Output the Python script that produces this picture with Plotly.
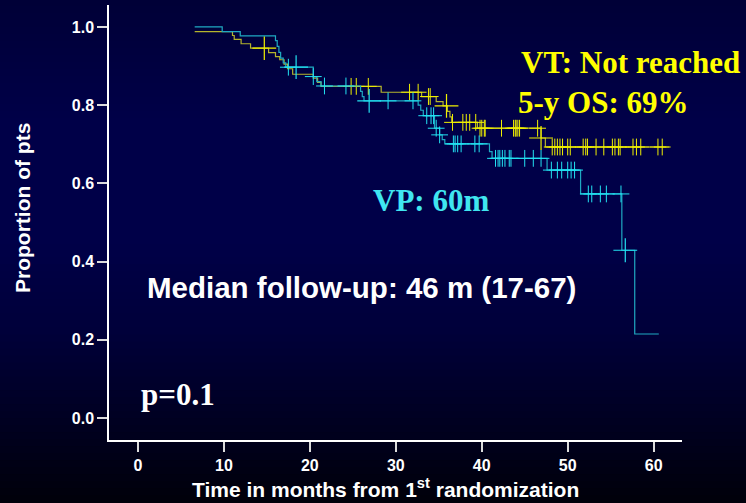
import numpy as np
import plotly.graph_objects as go

# ---------------- data ----------------
vt_time = [6.6, 11.0, 11.2, 12.0, 13.1, 15.2, 16.0, 16.5, 17.0, 17.4, 18.0, 20.4, 20.9, 21.3,
           28.3, 33.0, 34.7, 35.5, 36.0, 36.3, 36.5, 39.5, 46.9, 47.4]
vt_surv = [0.988, 0.978, 0.968, 0.957, 0.946, 0.934, 0.924, 0.916, 0.905, 0.893, 0.879, 0.869,
           0.858, 0.848, 0.833, 0.822, 0.809, 0.798, 0.784, 0.770, 0.756, 0.741, 0.716, 0.693]
vt_end = 61.8
vt_censor = [24.8, 25.4, 26.8, 31.6, 32.6, 33.8, 34.0, 36.6, 37.8, 38.2, 38.6, 39.3, 39.8, 40.0,
             40.3, 40.4, 42.3, 43.7, 43.9, 44.0, 44.2, 44.4, 46.5, 48.2, 48.5, 48.8, 49.1, 49.4,
             50.0, 50.3, 51.8, 52.1, 52.3, 53.3, 54.2, 55.2, 55.5, 55.9, 56.1, 57.6, 58.0, 58.5,
             60.5, 61.0]
vt_censor_big = [14.7, 35.9, 46.9]

vp_time = [6.6, 9.8, 11.9, 16.0, 16.2, 16.4, 16.6, 16.9, 17.2, 20.4, 20.8, 21.3, 25.9, 26.1, 26.3,
           32.6, 32.9, 33.2, 34.5, 35.1, 35.4, 35.7, 40.9, 41.2, 47.6, 51.5, 56.3, 57.8]
vp_surv = [1.0, 0.988, 0.977, 0.965, 0.950, 0.935, 0.920, 0.908, 0.897, 0.873, 0.860, 0.849, 0.835,
           0.822, 0.811, 0.800, 0.787, 0.773, 0.741, 0.724, 0.712, 0.701, 0.681, 0.664, 0.634,
           0.573, 0.429, 0.215]
vp_end = 60.6
vp_censor = [17.5, 20.4, 21.7, 24.2, 29.1, 32.0, 33.6, 34.1, 34.4, 34.7, 35.1, 36.7, 36.9, 37.2,
             37.6, 39.2, 39.7, 41.6, 41.9, 42.1, 42.4, 42.7, 43.2, 43.4, 45.0, 46.0, 46.9, 48.1,
             48.8, 49.3, 50.0, 50.4, 50.8, 52.4, 52.8, 53.8, 54.5, 56.2]
vp_censor_big = [18.4, 26.9, 56.7]

x_ticks = [0, 10, 20, 30, 40, 50, 60]
y_ticks = [0.0, 0.2, 0.4, 0.6, 0.8, 1.0]

# ---------------- helpers ----------------
def surv_at(times, survs, t):
    idx = np.searchsorted(np.array(times), np.array(t), side="right") - 1
    return list(np.array(survs)[idx])

VT_LINE = "#b4b42c"
VT_MARK = "#f0f000"
VP_LINE = "#1fa9c2"
VP_MARK = "#22e2f2"

fig = go.Figure()

for times, survs, end, line_c, mark_c, cens, cens_big in [
    (vt_time, vt_surv, vt_end, VT_LINE, VT_MARK, vt_censor, vt_censor_big),
    (vp_time, vp_surv, vp_end, VP_LINE, VP_MARK, vp_censor, vp_censor_big),
]:
    fig.add_trace(go.Scatter(
        x=list(times) + [end], y=list(survs) + [survs[-1]],
        mode="lines", line=dict(color=line_c, width=1.2, shape="hv"),
        hoverinfo="skip", showlegend=False))
    fig.add_trace(go.Scatter(
        x=cens, y=surv_at(times, survs, cens), mode="markers",
        marker=dict(symbol="cross-thin", size=12, line=dict(color=mark_c, width=1)),
        hoverinfo="skip", showlegend=False))
    fig.add_trace(go.Scatter(
        x=cens_big, y=surv_at(times, survs, cens_big), mode="markers",
        marker=dict(symbol="cross-thin", size=17, line=dict(color=mark_c, width=1.2)),
        hoverinfo="skip", showlegend=False))

# ---------------- background gradient ----------------
W, H = 746, 503
ml, mr, mt, mb = 109, 64, 5, 63
pw, ph = W - ml - mr, H - mt - mb

stops_Y = [0, 120, 240, 330, 420, 503]
stops_b = [54, 72, 72, 58, 34, 10]
nb = 72
shapes = []
for i in range(nb):
    Y0 = H * i / nb
    Y1 = H * (i + 1) / nb
    b = np.interp((Y0 + Y1) / 2, stops_Y, stops_b)
    col = "rgb(0,0,%d)" % int(round(b))
    shapes.append(dict(
        type="rect", xref="paper", yref="paper", layer="below",
        x0=-ml / pw - 0.01, x1=(W - ml) / pw + 0.01,
        y0=(H - mb - Y1) / ph - 0.002, y1=(H - mb - Y0) / ph + 0.002,
        fillcolor=col, line=dict(width=0)))

# ---------------- layout ----------------
def px_x(X):
    return (X - ml) / pw

def px_y(Y):
    return (H - mb - Y) / ph

serif = "Liberation Serif"
sans = "Liberation Sans"

annotations = [
    dict(text="<b>VT: Not reached</b>", x=px_x(519), y=px_y(63), xanchor="left", yanchor="middle",
         font=dict(family=serif, size=31, color="#ffff00")),
    dict(text="<b>5-y OS: 69%</b>", x=px_x(516), y=px_y(102), xanchor="left", yanchor="middle",
         font=dict(family=serif, size=31, color="#ffff00")),
    dict(text="<b>VP: 60m</b>", x=px_x(371), y=px_y(200), xanchor="left", yanchor="middle",
         font=dict(family=serif, size=31, color="#40e6f0")),
    dict(text="<b>Median follow-up: 46 m (17-67)</b>", x=px_x(145), y=px_y(287), xanchor="left",
         yanchor="middle", font=dict(family=sans, size=29.5, color="white")),
    dict(text="<b>p=0.1</b>", x=px_x(139), y=px_y(394), xanchor="left", yanchor="middle",
         font=dict(family=serif, size=31, color="white")),
    dict(text="<b>Proportion of pts</b>", x=px_x(22), y=px_y(208), xanchor="center", yanchor="middle",
         textangle=-90, font=dict(family=sans, size=21, color="white")),
    dict(text="<b>Time in months from 1<sup>st</sup> randomization</b>", x=px_x(385), y=px_y(488),
         xanchor="center", yanchor="middle", font=dict(family=sans, size=21, color="white")),
]
for a in annotations:
    a.update(xref="paper", yref="paper", showarrow=False)

fig.update_layout(
    width=W, height=H,
    margin=dict(l=ml, r=mr, t=mt, b=mb, pad=0),
    paper_bgcolor="#000040",
    plot_bgcolor="rgba(0,0,0,0)",
    shapes=shapes,
    annotations=annotations,
    showlegend=False,
    xaxis=dict(range=[-3.37, 63.3], tickvals=x_ticks, ticktext=[str(v) for v in x_ticks],
               showgrid=False, zeroline=False, showline=True, linecolor="white", linewidth=1.5,
               ticks="outside", ticklen=10, tickwidth=1.5, tickcolor="#dcdcdc",
               tickfont=dict(family=sans, size=16, color="white", weight="bold")),
    yaxis=dict(range=[-0.056, 1.056], tickvals=y_ticks, ticktext=["%.1f" % v for v in y_ticks],
               showgrid=False, zeroline=False, showline=True, linecolor="white", linewidth=1.5,
               ticks="outside", ticklen=10, tickwidth=1.5, tickcolor="#dcdcdc",
               tickfont=dict(family=sans, size=16, color="white", weight="bold")),
)

fig.write_html("out.html")
